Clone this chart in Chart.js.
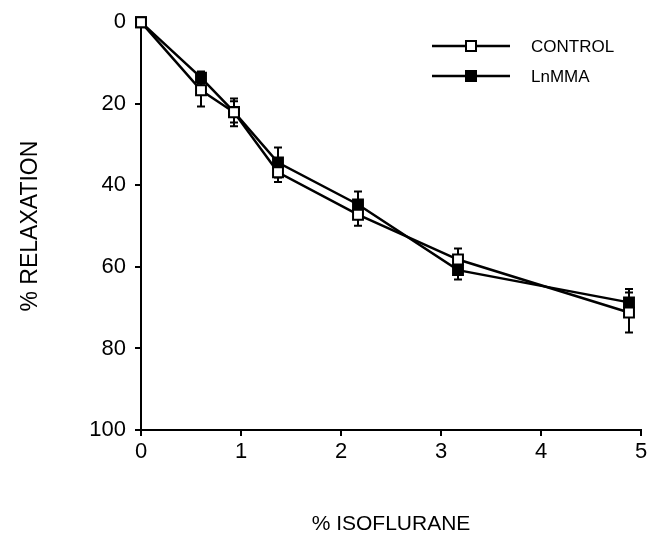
<!DOCTYPE html>
<html>
<head>
<meta charset="utf-8">
<script src="https://cdn.jsdelivr.net/npm/chart.js@4.4.0/dist/chart.umd.min.js"></script>
<style>
  html, body { margin: 0; padding: 0; background: #fff; }
  #wrap { width: 661px; height: 546px; }
</style>
</head>
<body>
<div id="wrap"><canvas id="relaxChart" width="661" height="546"></canvas></div>
<script>
// values
const isoflurane = [0, 0.6, 0.93, 1.37, 2.17, 3.17, 4.88]
const controlMean = [0, 16.7, 22.1, 36.8, 47.2, 58.2, 71.2]
const controlSem = [0, 4.0, 3.4, 2.4, 2.7, 2.7, 4.9]
const lnmmaMean = [0, 13.6, 22.0, 34.4, 44.7, 60.8, 68.7]
const lnmmaSem = [0, 1.5, 2.6, 3.7, 3.2, 2.3, 3.3]
const xTicks = [0, 1, 2, 3, 4, 5]
const yTicks = [0, 20, 40, 60, 80, 100]

const fontFamily = '"Liberation Sans", Arial, Helvetica, sans-serif'

const toPoints = (xs, ys) => xs.map((x, i) => ({ x: x, y: ys[i] }))

// vertical error bars with caps, under the markers
const errorBars = {
  id: 'errorBars',
  beforeDatasetsDraw(chart) {
    const ctx = chart.ctx
    const xScale = chart.scales.x
    const yScale = chart.scales.y
    ctx.save()
    ctx.strokeStyle = '#000'
    ctx.lineWidth = 2
    chart.data.datasets.forEach(ds => {
      ds.data.forEach((p, i) => {
        const err = ds.errors[i]
        if (!err) return
        const px = xScale.getPixelForValue(p.x)
        const top = yScale.getPixelForValue(p.y - err)
        const bot = yScale.getPixelForValue(p.y + err)
        ctx.beginPath()
        ctx.moveTo(px, top)
        ctx.lineTo(px, bot)
        ctx.moveTo(px - 4, top)
        ctx.lineTo(px + 4, top)
        ctx.moveTo(px - 4, bot)
        ctx.lineTo(px + 4, bot)
        ctx.stroke()
      })
    })
    ctx.restore()
  }
}

// legend in the upper right: line with the marker in the middle
const lineLegend = {
  id: 'lineLegend',
  afterDraw(chart) {
    const ctx = chart.ctx
    const x0 = 432, x1 = 510, textX = 531
    const rows = [46, 76]
    ctx.save()
    chart.data.datasets.forEach((ds, i) => {
      const y = rows[i]
      ctx.strokeStyle = '#000'
      ctx.lineWidth = 2.5
      ctx.beginPath()
      ctx.moveTo(x0, y)
      ctx.lineTo(x1, y)
      ctx.stroke()
      const mx = (x0 + x1) / 2
      ctx.fillStyle = ds.pointBackgroundColor
      ctx.lineWidth = 2
      ctx.fillRect(mx - 5, y - 5, 10, 10)
      ctx.strokeRect(mx - 5, y - 5, 10, 10)
      ctx.fillStyle = '#000'
      ctx.font = '17px ' + fontFamily
      ctx.textBaseline = 'middle'
      ctx.fillText(ds.label, textX, y + 1)
    })
    ctx.restore()
  }
}

const config = {
  type: 'scatter',
  data: {
    datasets: [
      {
        label: 'CONTROL',
        data: toPoints(isoflurane, controlMean),
        errors: controlSem,
        order: 0,
        clip: false,
        showLine: true,
        borderColor: '#000',
        borderWidth: 2.5,
        pointStyle: 'rect',
        pointRadius: 7,
        pointBorderWidth: 2,
        pointBorderColor: '#000',
        pointBackgroundColor: '#fff',
        tension: 0
      },
      {
        label: 'LnMMA',
        data: toPoints(isoflurane, lnmmaMean),
        errors: lnmmaSem,
        order: 1,
        clip: false,
        showLine: true,
        borderColor: '#000',
        borderWidth: 2.5,
        pointStyle: 'rect',
        pointRadius: 7,
        pointBorderWidth: 2,
        pointBorderColor: '#000',
        pointBackgroundColor: '#000',
        tension: 0
      }
    ]
  },
  options: {
    responsive: false,
    animation: false,
    devicePixelRatio: 1,
    layout: { padding: { left: 0, right: 20, top: 14, bottom: 0 } },
    plugins: {
      legend: { display: false },
      tooltip: { enabled: false }
    },
    scales: {
      x: {
        type: 'linear',
        min: 0,
        max: 5,
        afterBuildTicks: s => { s.ticks = xTicks.map(v => ({ value: v })) },
        afterFit: s => { s.height = 116 },
        grid: { drawOnChartArea: false, drawTicks: true, tickLength: 6, color: '#000', lineWidth: 2 },
        border: { display: true, color: '#000', width: 2 },
        ticks: { color: '#000', padding: 3, font: { family: fontFamily, size: 22 } },
        title: {
          display: true,
          text: '% ISOFLURANE',
          color: '#000',
          font: { family: fontFamily, size: 21 },
          padding: { top: 0, bottom: 9 }
        }
      },
      y: {
        type: 'linear',
        min: 0,
        max: 100,
        reverse: true,
        afterBuildTicks: s => { s.ticks = yTicks.map(v => ({ value: v })) },
        afterFit: s => { s.width = 141 },
        grid: { drawOnChartArea: false, drawTicks: true, tickLength: 6, color: '#000', lineWidth: 2 },
        border: { display: true, color: '#000', width: 2 },
        ticks: { color: '#000', padding: 9, font: { family: fontFamily, size: 22 } },
        title: {
          display: true,
          text: '% RELAXATION',
          color: '#000',
          font: { family: fontFamily, size: 23 },
          padding: { top: 17, bottom: 0 }
        }
      }
    }
  },
  plugins: [errorBars, lineLegend]
}

const relaxChart = new Chart(document.getElementById('relaxChart'), config)
</script>
</body>
</html>
